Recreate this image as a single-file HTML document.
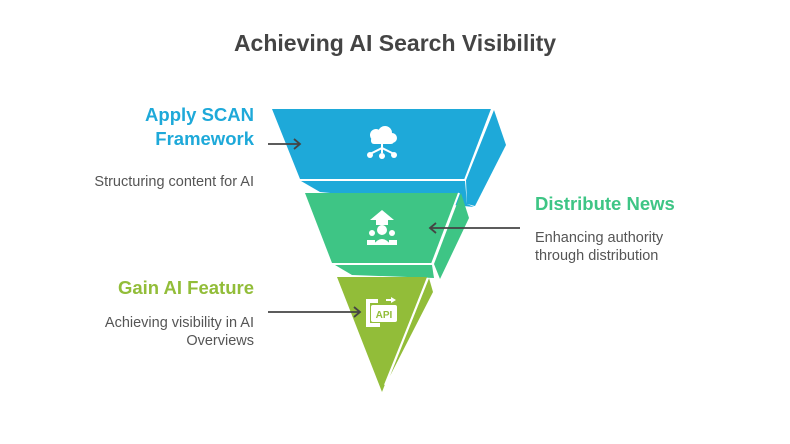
<!DOCTYPE html>
<html><head><meta charset="utf-8"><style>
body{margin:0;background:#fff}
svg{display:block}
text{font-family:"Liberation Sans",sans-serif}
</style></head><body>
<svg width="790" height="444" viewBox="0 0 790 444" xmlns="http://www.w3.org/2000/svg">
<text x="395" y="51" text-anchor="middle" font-size="23" font-weight="bold" fill="#444">Achieving AI Search Visibility</text>
<!-- blue -->
<polygon points="301,181 465,181 467,204 474,207 320,192" fill="#1ea9d9"/>
<polygon points="494,110 506,145 475,206 467,204 466,180" fill="#1ea9d9"/>
<polygon points="272,109 492,109 465,179 300,179" fill="#1ea9d9"/>
<line x1="492" y1="109" x2="465" y2="180" stroke="#fff" stroke-width="2"/>
<line x1="300" y1="180" x2="466" y2="180" stroke="#fff" stroke-width="2"/>
<!-- green -->
<polygon points="335,265 432,265 434,278 352,275" fill="#3ec585"/>
<polygon points="461,193 469,218 440,279 434,264" fill="#3ec585"/>
<polygon points="305,193 459,193 432,263 332,263" fill="#3ec585"/>
<line x1="459" y1="193" x2="432" y2="264" stroke="#fff" stroke-width="2"/>
<line x1="332" y1="264" x2="433" y2="264" stroke="#fff" stroke-width="2"/>
<!-- lime -->
<polygon points="429,278 433,292 390,376" fill="#92bd39"/>
<polygon points="337,277 427,277 382,392" fill="#92bd39"/>
<line x1="428" y1="278" x2="385" y2="385" stroke="#fff" stroke-width="2"/>
<!-- icons -->
<g fill="#fff">
<circle cx="376" cy="135" r="6"/><circle cx="385" cy="133" r="7"/><circle cx="392" cy="138" r="5"/><rect x="371" y="137" width="23" height="7" rx="3"/>
<rect x="381" y="143" width="2" height="10"/>
<path d="M370 154 L382 148 L394 154" stroke="#fff" stroke-width="2" fill="none"/>
<circle cx="370" cy="155" r="3"/><circle cx="382" cy="156" r="3"/><circle cx="394" cy="155" r="3"/>
<polygon points="382,210 370,220 376,220 376,225 388,225 388,220 394,220"/>
<circle cx="382" cy="230" r="5"/><circle cx="372" cy="233" r="3"/><circle cx="392" cy="233" r="3"/>
<path d="M373 245 Q382 233 391 245 Z"/><rect x="367" y="240" width="8" height="5"/><rect x="389" y="240" width="8" height="5"/>
<rect x="366" y="299" width="12" height="4"/><rect x="366" y="299" width="4" height="28"/><rect x="366" y="323" width="14" height="4"/>
<rect x="371" y="305" width="26" height="17" rx="2"/>
<polygon points="391,297 396,300 391,303"/><rect x="386" y="299" width="5" height="2"/>
</g>
<text x="384" y="318" text-anchor="middle" font-size="10" font-weight="bold" fill="#92bd39">API</text>
<!-- arrows -->
<g stroke="#444" stroke-width="1.8" fill="none">
<line x1="268" y1="144" x2="300" y2="144"/><path d="M294 139 L300 144 L294 149"/>
<line x1="520" y1="228" x2="430" y2="228"/><path d="M436 223 L430 228 L436 233"/>
<line x1="268" y1="312" x2="360" y2="312"/><path d="M354 307 L360 312 L354 317"/>
</g>
<!-- labels -->
<g font-weight="bold" font-size="18.5">
<text x="254" y="121" text-anchor="end" fill="#1ea9d9">Apply SCAN</text>
<text x="254" y="145" text-anchor="end" fill="#1ea9d9">Framework</text>
<text x="535" y="210" fill="#3ec585">Distribute News</text>
<text x="254" y="294" text-anchor="end" fill="#92bd39">Gain AI Feature</text>
</g>
<g font-size="14.5" fill="#555">
<text x="254" y="186" text-anchor="end">Structuring content for AI</text>
<text x="535" y="242">Enhancing authority</text>
<text x="535" y="260">through distribution</text>
<text x="254" y="327" text-anchor="end">Achieving visibility in AI</text>
<text x="254" y="345" text-anchor="end">Overviews</text>
</g>
</svg>
</body></html>
